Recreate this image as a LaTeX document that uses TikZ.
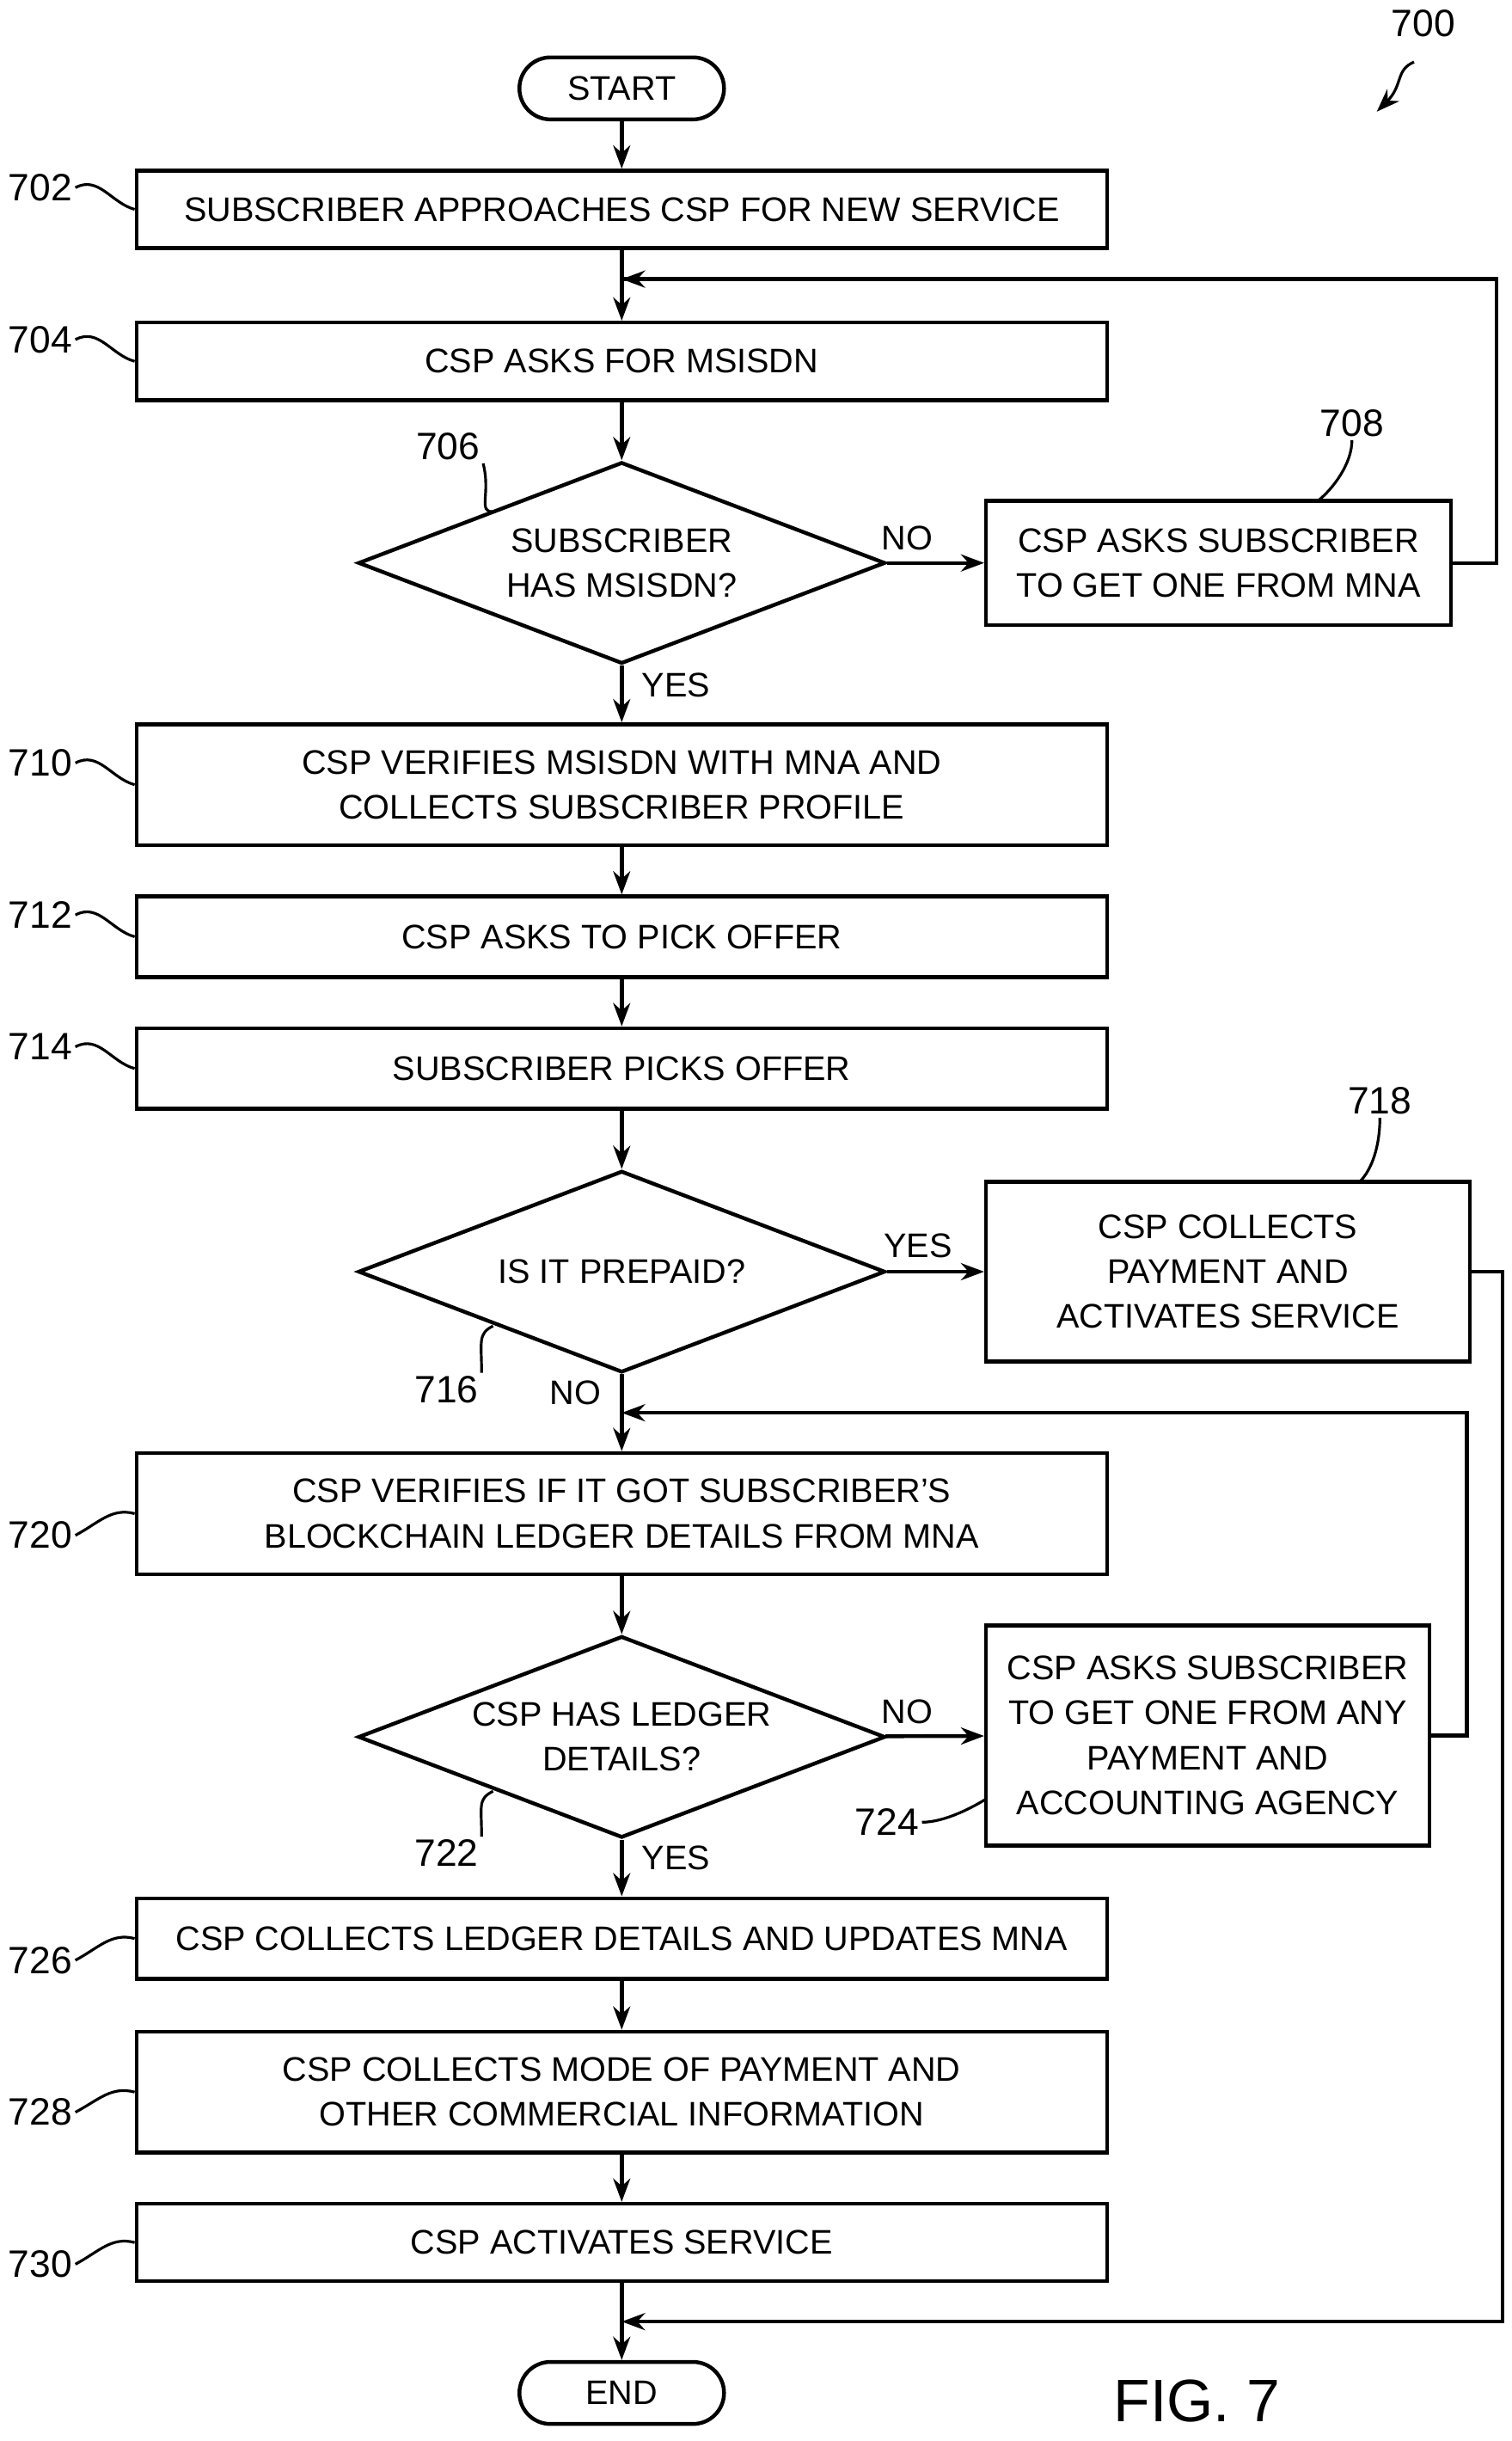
\documentclass[tikz,border=0pt]{standalone}
\usepackage{fontspec}
\setmainfont{Liberation Sans}
\usetikzlibrary{shapes,arrows,arrows.meta}
\tikzstyle{block} = [rectangle, draw, line width=1.4pt, minimum width=12.52cm, text centered, align=center, font=\fontsize{12.5}{16.5}\selectfont]
\tikzstyle{sideblock} = [rectangle, draw, line width=1.4pt, text centered, align=center, inner sep=0pt, font=\fontsize{12.5}{16.5}\selectfont]
\tikzstyle{decision} = [diamond, draw, line width=1.4pt, minimum width=6.8cm, minimum height=2.6cm, inner sep=0pt, aspect=2.6, align=center, font=\fontsize{12.5}{16.5}\selectfont]
\tikzstyle{terminal} = [rectangle, rounded corners=0.4cm, draw, line width=1.4pt, minimum width=2.64cm, minimum height=0.8cm, font=\fontsize{12.5}{15}\selectfont]
\tikzstyle{arrow} = [draw, -{Stealth[length=0.3cm,width=0.22cm]}, line width=1.4pt]
\tikzstyle{line} = [draw, line width=1.4pt]
\tikzstyle{num} = [font=\fontsize{14}{16}\selectfont, inner sep=1pt]
\tikzstyle{lbl} = [font=\fontsize{12.5}{15}\selectfont, inner sep=1pt]
\tikzstyle{leader} = [draw, line width=1pt]
\begin{document}
\begin{tikzpicture}[x=0.02cm, y=-0.02cm]
      \useasboundingbox (0,0) rectangle (975,1574);
      % Place nodes
      \node [terminal] (start) at (401,57) {START};
      \node [block, minimum height=1cm] (approach) at (401,135) {SUBSCRIBER APPROACHES CSP FOR NEW SERVICE};
      \node [block, minimum height=1cm] (askMsisdn) at (401,233) {CSP ASKS FOR MSISDN};
      \node [decision] (hasMsisdn) at (401,363) {SUBSCRIBER\\HAS MSISDN?};
      \node [sideblock, minimum width=6cm, minimum height=1.6cm] (getMsisdn) at (786,363) {CSP ASKS SUBSCRIBER\\TO GET ONE FROM MNA};
      \node [block, minimum height=1.56cm] (verifyMsisdn) at (401,506) {CSP VERIFIES MSISDN WITH MNA AND\\COLLECTS SUBSCRIBER PROFILE};
      \node [block, minimum height=1.04cm] (askOffer) at (401,604) {CSP ASKS TO PICK OFFER};
      \node [block, minimum height=1.04cm] (pickOffer) at (401,689) {SUBSCRIBER PICKS OFFER};
      \node [decision] (prepaid) at (401,820) {IS IT PREPAID?};
      \node [sideblock, minimum width=6.24cm, minimum height=2.32cm] (collectPayment) at (792,820) {CSP COLLECTS\\PAYMENT AND\\ACTIVATES SERVICE};
      \node [block, minimum height=1.56cm] (verifyLedger) at (401,976) {CSP VERIFIES IF IT GOT SUBSCRIBER'S\\BLOCKCHAIN LEDGER DETAILS FROM MNA};
      \node [decision] (hasLedger) at (401,1120) {CSP HAS LEDGER\\DETAILS?};
      \node [sideblock, minimum width=5.72cm, minimum height=2.84cm] (getLedger) at (779,1119) {CSP ASKS SUBSCRIBER\\TO GET ONE FROM ANY\\PAYMENT AND\\ACCOUNTING AGENCY};
      \node [block, minimum height=1.04cm] (collectLedger) at (401,1250) {CSP COLLECTS LEDGER DETAILS AND UPDATES MNA};
      \node [block, minimum height=1.56cm] (collectMode) at (401,1349) {CSP COLLECTS MODE OF PAYMENT AND\\OTHER COMMERCIAL INFORMATION};
      \node [block, minimum height=1cm] (activate) at (401,1446) {CSP ACTIVATES SERVICE};
      \node [terminal] (end) at (401,1543) {END};
      \node [font=\fontsize{22}{24}\selectfont\rmfamily, anchor=west] (fig) at (712,1548) {FIG. 7};

      % loop-back points
      \coordinate (loopTop) at (401,180);
      \coordinate (loopMid) at (401,911);
      \coordinate (loopEnd) at (401,1497);

      % connectors
      \path [arrow] (start) -- (approach);
      \path [arrow] (approach) -- (askMsisdn);
      \path [arrow] (askMsisdn) -- (hasMsisdn);
      \path [arrow] (hasMsisdn) -- (getMsisdn);
      \path [line] (getMsisdn.east) -- ++(28,0) |- (loopTop);
      \path [arrow] (getMsisdn.east) ++(28,0) |- (loopTop);
      \path [arrow] (hasMsisdn) -- (verifyMsisdn);
      \path [arrow] (verifyMsisdn) -- (askOffer);
      \path [arrow] (askOffer) -- (pickOffer);
      \path [arrow] (pickOffer) -- (prepaid);
      \path [arrow] (prepaid) -- (collectPayment);
      \path [arrow] (prepaid) -- (verifyLedger);
      \path [arrow] (collectPayment.east) -- ++(20,0) |- (loopEnd);
      \path [arrow] (verifyLedger) -- (hasLedger);
      \path [arrow] (hasLedger) -- (getLedger);
      \path [arrow] (getLedger.east) -- ++(23,0) |- (loopMid);
      \path [arrow] (hasLedger) -- (collectLedger);
      \path [arrow] (collectLedger) -- (collectMode);
      \path [arrow] (collectMode) -- (activate);
      \path [arrow] (activate) -- (end);

      % branch labels
      \node [lbl] (no1) at (585,347) {NO};
      \node [lbl] (yes1) at (436,442) {YES};
      \node [lbl] (yes2) at (592,803) {YES};
      \node [lbl] (no2) at (371,898) {NO};
      \node [lbl] (no3) at (585,1104) {NO};
      \node [lbl] (yes3) at (436,1198) {YES};

      % reference numerals
      \node [num] (n700) at (918,15) {700};
      \draw [-{Stealth[length=0.3cm,width=0.22cm]}, line width=1pt] (912,40) .. controls (900,45) and (905,55) .. (888,72);
      \foreach \n/\y/\tgt in {702/121/approach, 704/219/askMsisdn, 710/492/verifyMsisdn, 712/590/askOffer, 714/675/pickOffer, 720/990/verifyLedger, 726/1264/collectLedger, 728/1362/collectMode, 730/1460/activate} {
        \node [num] (n\n) at (26,\y) {\n};
        \path [leader] (n\n.east) .. controls +(15,-8) and +(-15,-4) .. (\tgt.west);
      }
      \node [num] (n706) at (289,288) {706};
      \path [leader] (n706.south east) .. controls +(5,20) and +(-10,0) .. (318,330);
      \node [num] (n708) at (872,273) {708};
      \path [leader] (n708.south) .. controls +(0,15) and +(10,-8) .. (850,323);
      \node [num] (n716) at (288,896) {716};
      \path [leader] (n716.north east) .. controls +(0,-20) and +(-10,5) .. (318,855);
      \node [num] (n718) at (890,710) {718};
      \path [leader] (n718.south) .. controls +(0,18) and +(8,-8) .. (877,762);
      \node [num] (n722) at (288,1195) {722};
      \path [leader] (n722.north east) .. controls +(0,-20) and +(-10,5) .. (318,1155);
      \node [num] (n724) at (572,1175) {724};
      \path [leader] (n724.east) .. controls +(15,0) and +(-8,5) .. (636,1160);

  \end{tikzpicture}
\end{document}
